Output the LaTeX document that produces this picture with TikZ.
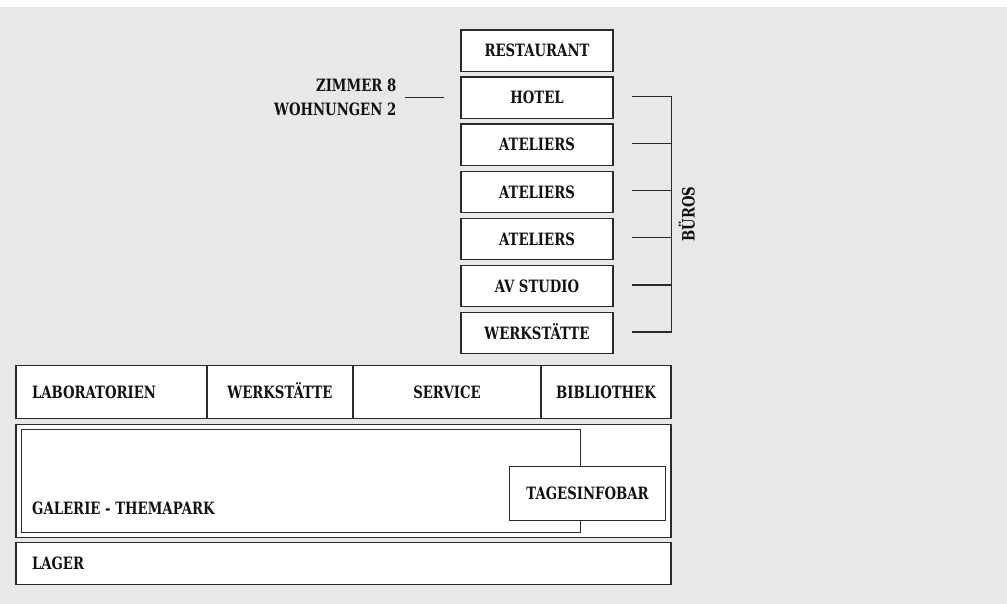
\documentclass[tikz,border=0pt]{standalone}
\usepackage{fontspec}
\newfontfamily\lblfont[FakeStretch=0.78]{DejaVu Serif}
\usetikzlibrary{calc}
\definecolor{bg}{HTML}{E8E8E8}
\definecolor{ln}{HTML}{2A2A2A}
\definecolor{tx}{HTML}{111111}
\tikzset{
  lbl/.style={font=\lblfont\bfseries\fontsize{17}{18}\selectfont, text=tx, inner sep=0pt, text height=12.3pt, text depth=0pt},
  box/.style={draw=ln, line width=1.2pt, fill=white, rectangle, inner sep=0pt, lbl},
  stackbox/.style={box, minimum width=152pt, minimum height=41.5pt},
  wire/.style={draw=ln, line width=1.2pt},
}
\begin{document}
\begin{tikzpicture}[x=1pt,y=-1pt]
\useasboundingbox (0,0) rectangle (1007,604);
\fill[white] (0,0) rectangle (1007,7);
\fill[bg] (0,7) rectangle (1007,604);

% stack
\node[stackbox] (rest) at (537,50.7) {RESTAURANT};
\node[stackbox] (hotel) at (537,97.8) {HOTEL};
\node[stackbox] (at1) at (537,144.8) {ATELIERS};
\node[stackbox] (at2) at (537,191.9) {ATELIERS};
\node[stackbox] (at3) at (537,238.9) {ATELIERS};
\node[stackbox] (av) at (537,286.0) {AV STUDIO};
\node[stackbox] (werk) at (537,333.0) {WERKSTÄTTE};

% hotel annotation
\node[lbl, anchor=north east, align=right, text=tx, text height=, text depth=] (zimmer) at (396.5,78.3) {ZIMMER 8\\[6pt]WOHNUNGEN 2};
\coordinate (zl) at ($(hotel.west)+(-16,0)$);
\draw[wire] (zl) -- ++(-39,0);

% bracket
\foreach \n in {hotel,at1,at2,at3,av,werk}{
  \draw[wire] ($(\n.east)+(18,-1)$) -- ($(\n.east)+(58,-1)$);
}
\draw[wire] ($(hotel.east)+(58,-1.6)$) -- ($(werk.east)+(58,-0.4)$);
\node[lbl, rotate=90] (bueros) at (688.5,214) {BÜROS};

% row 1
\node[box, minimum height=53pt, inner xsep=16pt, text width=159pt, align=left] (lab) at (111.5,392) {LABORATORIEN};
\node[box, minimum width=146pt, minimum height=53pt] (werk2) at (280,392) {WERKSTÄTTE};
\node[box, minimum width=188pt, minimum height=53pt] (serv) at (447,392) {SERVICE};
\node[box, minimum width=130pt, minimum height=53pt] (bib) at (606,392) {BIBLIOTHEK};

% row 2
\node[box, minimum width=655pt, minimum height=113pt] (outer) at (343.5,480.8) {};
\node[box, minimum width=559pt, minimum height=103.4pt] (gal) at (300.6,481) {};
\node[lbl, anchor=west] (galtext) at (32,508.5) {GALERIE - THEMAPARK};
\node[box, minimum width=155.7pt, minimum height=54pt] (tages) at (587.5,493.7) {TAGESINFOBAR};

% row 3
\node[box, minimum height=41.6pt, inner xsep=16pt, text width=623pt, align=left] (lager) at (343.5,563.5) {LAGER};
\end{tikzpicture}
\end{document}
